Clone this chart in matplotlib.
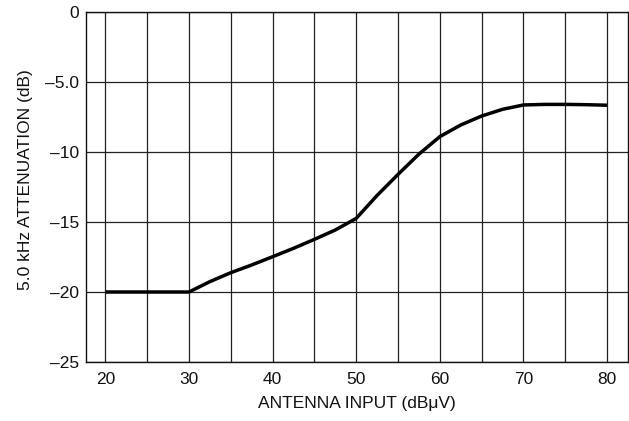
import matplotlib
matplotlib.use("Agg")
import matplotlib.pyplot as plt

plt.rcParams['font.family'] = ['Liberation Sans', 'DejaVu Sans']

# Data
antenna_input = [20, 25, 30, 32.5, 35, 37.5, 40, 42.5, 45, 47.5, 50, 52.5, 55, 57.5,
                 60, 62.5, 65, 67.5, 70, 72.5, 75, 77.5, 80]
attenuation = [-20.0, -20.0, -20.0, -19.26, -18.62, -18.07, -17.48, -16.88, -16.24,
               -15.57, -14.74, -13.10, -11.60, -10.15, -8.90, -8.07, -7.43, -6.95,
               -6.64, -6.60, -6.60, -6.62, -6.66]

x_major = [20, 30, 40, 50, 60, 70, 80]
x_minor = [25, 35, 45, 55, 65, 75]
y_ticks = [0, -5, -10, -15, -20, -25]
y_labels = ["0", "\u20135.0", "\u201310", "\u201315", "\u201320", "\u201325"]

fig = plt.figure(figsize=(6.29, 4.21), dpi=100)
ax = fig.add_axes([85.7 / 629, 59 / 421, (628 - 85.7) / 629, 350 / 421])

ax.plot(antenna_input, attenuation, color='black', lw=2.5, solid_capstyle='butt',
        solid_joinstyle='round', zorder=3)

ax.set_xlim(17.65, 82.5)
ax.set_ylim(-25, 0)
ax.set_xticks(x_major)
ax.set_xticks(x_minor, minor=True)
ax.set_xticklabels([str(v) for v in x_major])
ax.set_yticks(y_ticks)
ax.set_yticklabels(y_labels)

ax.grid(True, which='both', axis='x', color='#222222', lw=0.9)
ax.grid(True, which='major', axis='y', color='#222222', lw=0.9)
ax.tick_params(which='both', length=0, labelsize=12.5, colors='#111111')
ax.tick_params(axis='x', pad=7.5)
ax.tick_params(axis='y', pad=4.5)
for s in ax.spines.values():
    s.set_color('#111111')
    s.set_linewidth(1.0)

ax.set_xlabel("ANTENNA INPUT (dB\u03bcV)", fontsize=12.5, color='#111111', labelpad=6)
ax.set_ylabel("5.0 kHz ATTENUATION (dB)", fontsize=12.5, color='#111111')
ax.yaxis.set_label_coords(-0.097, 0.52)

fig.savefig("out.png", dpi=100)
